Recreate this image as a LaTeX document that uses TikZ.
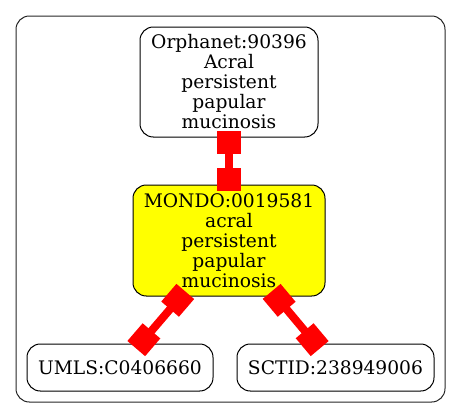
\documentclass[tikz,border=0pt]{standalone}
\usepackage{fontspec}
\setmainfont{DejaVu Serif}
\usetikzlibrary{arrows.meta}
\definecolor{pureyellow}{RGB}{255,255,0}
\definecolor{purered}{RGB}{255,0,0}
\tikzset{
  term/.style={draw=black, line width=0.75pt, rounded corners=10pt, inner sep=0pt, align=center,
    font=\fontsize{14}{15}\selectfont, fill=white},
  focus/.style={term, fill=pureyellow},
  link/.style={draw=purered, line width=6pt,
    {Square[length=17.5pt,width=17.5pt]}-{Square[length=17.5pt,width=17.5pt]},
    shorten <=-5pt, shorten >=-5pt},
  cluster/.style={draw=black!85, line width=0.75pt, rounded corners=10pt}
}
\begin{document}
\begin{tikzpicture}[x=0.75pt,y=-0.75pt]
\useasboundingbox (0,0) rectangle (461,419);
\draw[cluster] (16,16) rectangle (445,402);
\node[term, minimum width=133.5pt, minimum height=82.5pt] (orph) at (229,82)
  {Orphanet:90396\\Acral\\persistent\\papular\\mucinosis};
\node[focus, minimum width=144pt, minimum height=83.25pt] (mondo) at (229,240.5)
  {MONDO:0019581\\acral\\persistent\\papular\\mucinosis};
\node[term, minimum width=139.5pt, minimum height=35.25pt] (umls) at (120,367.5)
  {UMLS:C0406660};
\node[term, minimum width=147.75pt, minimum height=35.25pt] (sctid) at (335.5,367.5)
  {SCTID:238949006};
\draw[link] (orph) -- (mondo);
\draw[link] (mondo) -- (umls);
\draw[link] (mondo) -- (sctid);
\end{tikzpicture}
\end{document}
